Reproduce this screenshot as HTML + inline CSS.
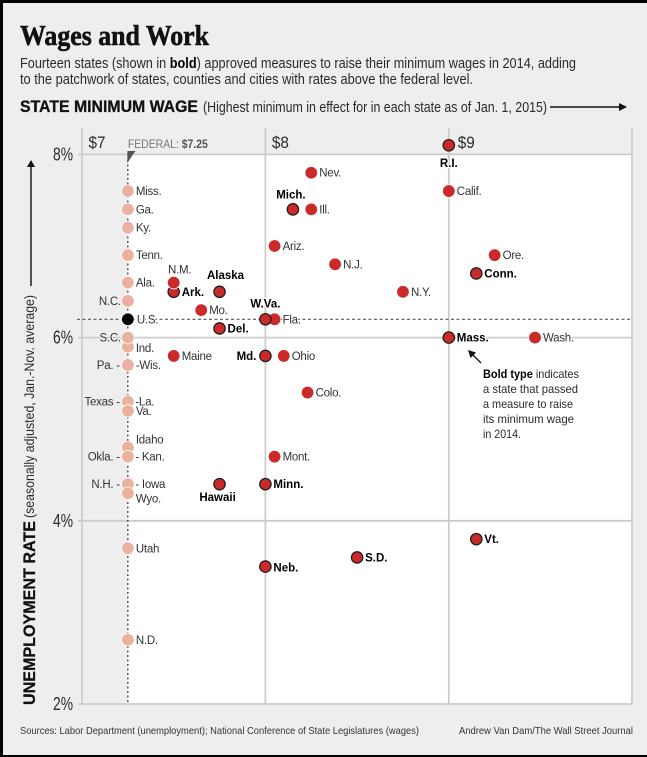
<!DOCTYPE html>
<html lang="en">
<head>
<meta charset="utf-8">
<title>Wages and Work</title>
<style>
html,body{margin:0;padding:0;background:#000;width:647px;height:757px;overflow:hidden}
svg{display:block;font-family:"Liberation Sans",sans-serif}
</style>
</head>
<body>
<svg id="chart" width="647" height="757" viewBox="0 0 647 757" xmlns="http://www.w3.org/2000/svg">
  <rect x="3" y="3" width="644" height="752" fill="#eeeeee"/>
  <text x="20" y="45" font-family="Liberation Serif" font-weight="700" font-size="29" fill="#111" stroke="#111" stroke-width="0.6" textLength="189" lengthAdjust="spacingAndGlyphs">Wages and Work</text>
  <text x="20" y="68" font-size="14.5" fill="#2a2a2a" textLength="556" lengthAdjust="spacingAndGlyphs">Fourteen states (shown in <tspan font-weight="700" fill="#000">bold</tspan>) approved measures to raise their minimum wages in 2014, adding</text>
  <text x="20" y="84" font-size="14.5" fill="#2a2a2a" textLength="453" lengthAdjust="spacingAndGlyphs">to the patchwork of states, counties and cities with rates above the federal level.</text>
  <text x="20" y="112" font-size="17" font-weight="700" fill="#111" stroke="#111" stroke-width="0.3" textLength="178" lengthAdjust="spacingAndGlyphs">STATE MINIMUM WAGE</text>
  <text x="203" y="112" font-size="14.5" fill="#2a2a2a" textLength="344" lengthAdjust="spacingAndGlyphs">(Highest minimum in effect for in each state as of Jan. 1, 2015)</text>
  <line x1="550" y1="107" x2="620" y2="107" stroke="#111" stroke-width="1.5"/>
  <polygon points="619,103 627,107 619,111" fill="#111"/>

  <rect id="plot" fill="#ffffff"/>
  <g id="grid"></g>
  <g id="ref"></g>
  <g id="ticks"></g>
  <g id="points"></g>
  <g id="labels"></g>

  <text transform="translate(35,705) rotate(-90)" font-size="17" font-weight="700" fill="#111" stroke="#111" stroke-width="0.3" textLength="184" lengthAdjust="spacingAndGlyphs">UNEMPLOYMENT RATE</text>
  <text transform="translate(34,518) rotate(-90)" font-size="14" fill="#2a2a2a" textLength="223" lengthAdjust="spacingAndGlyphs">(seasonally adjusted, Jan.-Nov. average)</text>
  <line x1="31" y1="286" x2="31" y2="166" stroke="#111" stroke-width="1.4"/>
  <polygon points="27,167 31,160 35,167" fill="#111"/>

  <line x1="481" y1="363" x2="472" y2="354" stroke="#111" stroke-width="1.3"/>
  <polygon points="468,350 476,352.5 470.5,358" fill="#111"/>
  <g font-size="12" fill="#2a2a2a">
    <text x="483" y="378" textLength="96" lengthAdjust="spacingAndGlyphs"><tspan font-weight="700" fill="#000">Bold type</tspan> indicates</text>
    <text x="483" y="393" textLength="95" lengthAdjust="spacingAndGlyphs">a state that passed</text>
    <text x="483" y="408" textLength="90" lengthAdjust="spacingAndGlyphs">a measure to raise</text>
    <text x="483" y="423" textLength="91" lengthAdjust="spacingAndGlyphs">its minimum wage</text>
    <text x="483" y="438" textLength="38" lengthAdjust="spacingAndGlyphs">in 2014.</text>
  </g>

  <text x="20" y="734" font-size="10.5" fill="#333" textLength="399" lengthAdjust="spacingAndGlyphs">Sources: Labor Department (unemployment); National Conference of State Legislatures (wages)</text>
  <text x="459" y="734" font-size="10.5" fill="#333" textLength="174" lengthAdjust="spacingAndGlyphs">Andrew Van Dam/The Wall Street Journal</text>
</svg>
<script>
const federalWage = 7.25;
const nationalRate = 6.2;
const wageTicks = [7, 8, 9];
const wageTickLabels = ["$7", "$8", "$9"];
const rateTicks = [8, 6, 4, 2];
const rateTickLabels = ["8%", "6%", "4%", "2%"];

const stateNames = ["Miss.","Ga.","Ky.","Tenn.","Ala.","N.C.","Ind.","S.C.","Pa.","Wis.","Texas","La.","Va.","Idaho","Okla.","Kan.","N.H.","Iowa","Wyo.","Utah","N.D.","Ark.","N.M.","Alaska","Mo.","Del.","Fla.","W.Va.","Maine","Md.","Ohio","Mich.","Ill.","Nev.","Ariz.","N.J.","N.Y.","Colo.","Mont.","Minn.","Hawaii","Neb.","S.D.","R.I.","Calif.","Ore.","Conn.","Mass.","Wash.","Vt.","U.S."];
const minWages = [7.25,7.25,7.25,7.25,7.25,7.25,7.25,7.25,7.25,7.25,7.25,7.25,7.25,7.25,7.25,7.25,7.25,7.25,7.25,7.25,7.25,7.50,7.50,7.75,7.65,7.75,8.05,8.00,7.50,8.00,8.10,8.15,8.25,8.25,8.05,8.38,8.75,8.23,8.05,8.00,7.75,8.00,8.50,9.00,9.00,9.25,9.15,9.00,9.47,9.15,7.25];
const unemploymentRates = [7.6,7.4,7.2,6.9,6.6,6.4,5.9,6.0,5.7,5.7,5.3,5.3,5.2,4.8,4.7,4.7,4.4,4.4,4.3,3.7,2.7,6.5,6.6,6.5,6.3,6.1,6.2,6.2,5.8,5.8,5.8,7.4,7.4,7.8,7.0,6.8,6.5,5.4,4.7,4.4,4.4,3.5,3.6,8.1,7.6,6.9,6.7,6.0,6.0,3.8,6.2];
const passedIn2014 = ["Ark.","Alaska","Del.","W.Va.","Md.","Mich.","Minn.","Hawaii","Neb.","S.D.","R.I.","Conn.","Mass.","Vt."];

const labelPrefix = {"La.":"-","Wis.":"-","Kan.":"- ","Iowa":"- "};
const labelSuffix = {"Pa.":" -","Texas":" -","Okla.":" -","N.H.":" -"};
const labelPlacement = {
  "N.C.":["end",-7,0],"S.C.":["end",-7,0],"Pa.":["end",-8,0],"Texas":["end",-8,0],"Okla.":["end",-8,0],"N.H.":["end",-8,0],"Md.":["end",-9,0],
  "Idaho":["start",8,-8],"Wyo.":["start",8,5],"Ind.":["start",8,1],
  "La.":["start",7.5,0],"Wis.":["start",8,0],"Kan.":["start",7.5,0],"Iowa":["start",7.5,0],
  "N.M.":["middle",6,-13],"Alaska":["middle",6,-17],"W.Va.":["middle",0,-16],"Mich.":["middle",-2,-15],"Hawaii":["middle",-2,13],"R.I.":["middle",0,18],
  "Neb.":["start",8,1],"U.S.":["start",9,0]
};

const svgNS = "http://www.w3.org/2000/svg";
const plotRight = 632, plotTop = 154, plotBottom = 704, gridTop = 128, gridLeft = 77;
function xScale(w){ return 82 + (w - 7) * 183.4; }
function yScale(r){ return 704 - (r - 2) * 91.6; }
function make(tag, parent, attrs){
  const el = document.createElementNS(svgNS, tag);
  for (const k in attrs) el.setAttribute(k, attrs[k]);
  document.getElementById(parent).appendChild(el);
  return el;
}

const fx = xScale(federalWage);
const plot = document.getElementById("plot");
plot.setAttribute("x", fx);
plot.setAttribute("y", plotTop);
plot.setAttribute("width", plotRight - fx);
plot.setAttribute("height", plotBottom - plotTop);

const gridColor = "#cccccc";
wageTicks.forEach(function(w, i){
  const line = make("line", "grid", {x1:xScale(w), x2:xScale(w), y1:gridTop, y2:plotBottom, stroke:gridColor, "stroke-width":1.8});
  
  
  const t = make("text", "ticks", {x:xScale(w) + (i === 2 ? 9 : 6.5), y:148, "font-size":17, fill:"#2a2a2a", textLength:17, lengthAdjust:"spacingAndGlyphs"});
  t.textContent = wageTickLabels[i];
  
  
});
const edge = make("line", "grid", {x1:plotRight, x2:plotRight, y1:gridTop, y2:plotBottom, stroke:gridColor, "stroke-width":1.8});


rateTicks.forEach(function(r, i){
  const line = make("line", "grid", {x1:gridLeft + 1, x2:plotRight, y1:yScale(r), y2:yScale(r), stroke:gridColor, "stroke-width":1.8});
  
  
  const t = make("text", "ticks", {x:53, y:yScale(r) + 6, "font-size":18, fill:"#2a2a2a", textLength:20, lengthAdjust:"spacingAndGlyphs"});
  t.textContent = rateTickLabels[i];
  
  
});

const fedLine = make("line", "ref", {x1:fx, x2:fx, y1:160, y2:plotBottom, stroke:"#333", "stroke-width":1.2, "stroke-dasharray":"2 2.5"});


const usLine = make("line", "ref", {x1:gridLeft, x2:plotRight, y1:yScale(nationalRate), y2:yScale(nationalRate), stroke:"#555", "stroke-width":1.1, "stroke-dasharray":"3 2.5"});


const flag = make("polygon", "ref", {points:(fx-0.5)+",151 "+(fx+7.5)+",151 "+(fx-0.5)+",163", fill:"#555"});


const fedLabel = make("text", "ref", {x:fx, y:148, "font-size":11.5, fill:"#777", textLength:80, lengthAdjust:"spacingAndGlyphs"});
fedLabel.innerHTML = 'FEDERAL: <tspan font-weight="700" fill="#555">$7.25</tspan>';



stateNames.forEach(function(name, i){
  const cx = xScale(minWages[i]), cy = yScale(unemploymentRates[i]);
  const bold = passedIn2014.indexOf(name) >= 0;
  const isUS = name === "U.S.";
  const isFederal = minWages[i] === federalWage && !isUS;
  const dot = make("circle", "points", {
    cx:cx, cy:cy, r: bold ? 5.7 : 6.3,
    fill: isUS ? "#000" : (isFederal ? "#ebb0a0" : "#cb2a2a"),
    stroke: bold ? "#1a1a1a" : "#ffffff",
    "stroke-width": bold ? 1.2 : 0.8
  });
  
  

  const place = labelPlacement[name] || ["start", 8, 0];
  const lx = cx + place[1];
  const lab = make("text", "labels", {
    x:lx, y:cy + place[2] + 4, "text-anchor":place[0],
    "font-size":11.5, "font-weight": bold ? 700 : 400, fill: bold ? "#000" : "#333",
    "letter-spacing": bold ? "0" : "-0.25",
    stroke: lx < fx ? "#eeeeee" : "#ffffff", "stroke-width":2.2, "paint-order":"stroke", "stroke-linejoin":"round"
  });
  lab.textContent = (labelPrefix[name] || "") + name + (labelSuffix[name] || "");
  
  
});
</script>
</body>
</html>
